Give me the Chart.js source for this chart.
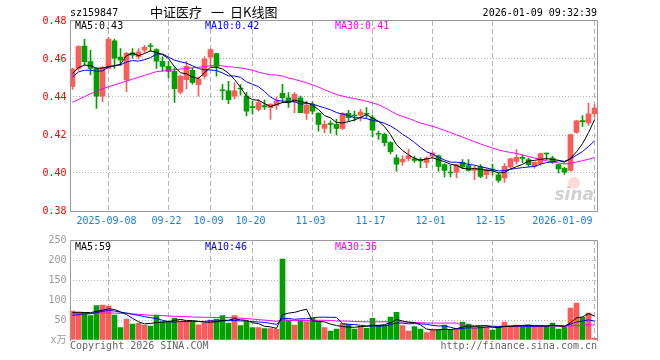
<!DOCTYPE html>
<html>
<head>
<meta charset="utf-8">
<script src="https://cdn.jsdelivr.net/npm/chart.js@4.4.1/dist/chart.umd.min.js"></script>
<style>
  html, body { margin: 0; padding: 0; background: #fff; }
  #wrap { position: relative; width: 660px; height: 360px; }
  canvas { position: absolute; left: 0; top: 0; }
</style>
</head>
<body>
<div id="wrap">
  <canvas id="kline" width="660" height="360"></canvas>
  <canvas id="vol" width="660" height="360"></canvas>
</div>
<script>
// trading days shown
const dates = [
  '2025-08-29',
  '2025-09-01', '2025-09-02', '2025-09-03', '2025-09-04', '2025-09-05',
  '2025-09-08', '2025-09-09', '2025-09-10', '2025-09-11', '2025-09-12',
  '2025-09-15', '2025-09-16', '2025-09-17', '2025-09-18', '2025-09-19',
  '2025-09-22', '2025-09-23', '2025-09-24', '2025-09-25', '2025-09-26',
  '2025-09-29', '2025-09-30',
  '2025-10-09', '2025-10-10',
  '2025-10-13', '2025-10-14', '2025-10-15', '2025-10-16', '2025-10-17',
  '2025-10-20', '2025-10-21', '2025-10-22', '2025-10-23', '2025-10-24',
  '2025-10-27', '2025-10-28', '2025-10-29', '2025-10-30', '2025-10-31',
  '2025-11-03', '2025-11-04', '2025-11-05', '2025-11-06', '2025-11-07',
  '2025-11-10', '2025-11-11', '2025-11-12', '2025-11-13', '2025-11-14',
  '2025-11-17', '2025-11-18', '2025-11-19', '2025-11-20', '2025-11-21',
  '2025-11-24', '2025-11-25', '2025-11-26', '2025-11-27', '2025-11-28',
  '2025-12-01', '2025-12-02', '2025-12-03', '2025-12-04', '2025-12-05',
  '2025-12-08', '2025-12-09', '2025-12-10', '2025-12-11', '2025-12-12',
  '2025-12-15', '2025-12-16', '2025-12-17', '2025-12-18', '2025-12-19',
  '2025-12-22', '2025-12-23', '2025-12-24', '2025-12-25', '2025-12-26',
  '2025-12-29', '2025-12-30', '2025-12-31',
  '2026-01-05', '2026-01-06', '2026-01-07', '2026-01-08', '2026-01-09'
];

const opens = [
  0.4456, 0.4550, 0.4668, 0.4586, 0.4551, 0.4405, 0.4551, 0.4696, 0.4610, 0.4490,
  0.4632, 0.4612, 0.4647, 0.4670, 0.4649, 0.4588, 0.4561, 0.4535, 0.4425, 0.4491,
  0.4540, 0.4465, 0.4509, 0.4609, 0.4628, 0.4436, 0.4433, 0.4404, 0.4444, 0.4405,
  0.4346, 0.4335, 0.4355, 0.4344, 0.4356, 0.4419, 0.4396, 0.4374, 0.4396, 0.4314,
  0.4356, 0.4314, 0.4235, 0.4258, 0.4256, 0.4235, 0.4314, 0.4302, 0.4304, 0.4312,
  0.4291, 0.4206, 0.4204, 0.4160, 0.4080, 0.4058, 0.4075, 0.4075, 0.4072, 0.4056,
  0.4088, 0.4091, 0.4044, 0.4002, 0.4004, 0.4056, 0.4039, 0.4014, 0.4032, 0.3991,
  0.4021, 0.3991, 0.3974, 0.4032, 0.4061, 0.4081, 0.4070, 0.4035, 0.4049, 0.4102,
  0.4079, 0.4044, 0.4025, 0.4014, 0.4214, 0.4274, 0.4263, 0.4312
];
const highs = [
  0.4552, 0.4670, 0.4704, 0.4645, 0.4555, 0.4560, 0.4714, 0.4705, 0.4655, 0.4635,
  0.4655, 0.4655, 0.4672, 0.4683, 0.4655, 0.4612, 0.4588, 0.4555, 0.4515, 0.4588,
  0.4552, 0.4508, 0.4612, 0.4655, 0.4630, 0.4465, 0.4482, 0.4474, 0.4465, 0.4425,
  0.4379, 0.4388, 0.4385, 0.4365, 0.4400, 0.4467, 0.4423, 0.4423, 0.4405, 0.4379,
  0.4374, 0.4318, 0.4274, 0.4274, 0.4282, 0.4318, 0.4330, 0.4326, 0.4335, 0.4344,
  0.4304, 0.4221, 0.4210, 0.4165, 0.4095, 0.4090, 0.4125, 0.4089, 0.4080, 0.4085,
  0.4112, 0.4095, 0.4050, 0.4040, 0.4046, 0.4070, 0.4070, 0.4035, 0.4044, 0.4025,
  0.4047, 0.3998, 0.4049, 0.4079, 0.4123, 0.4096, 0.4079, 0.4060, 0.4105, 0.4105,
  0.4088, 0.4046, 0.4030, 0.4205, 0.4277, 0.4302, 0.4368, 0.4360
];
const lows = [
  0.4440, 0.4540, 0.4568, 0.4516, 0.4340, 0.4375, 0.4550, 0.4550, 0.4565, 0.4428,
  0.4605, 0.4600, 0.4635, 0.4640, 0.4550, 0.4535, 0.4500, 0.4372, 0.4415, 0.4442,
  0.4468, 0.4404, 0.4498, 0.4561, 0.4509, 0.4386, 0.4365, 0.4390, 0.4410, 0.4300,
  0.4309, 0.4325, 0.4335, 0.4282, 0.4335, 0.4370, 0.4345, 0.4318, 0.4318, 0.4282,
  0.4309, 0.4220, 0.4212, 0.4209, 0.4200, 0.4230, 0.4275, 0.4274, 0.4274, 0.4291,
  0.4191, 0.4177, 0.4142, 0.4100, 0.4010, 0.4040, 0.4063, 0.4056, 0.4028, 0.4028,
  0.4080, 0.4009, 0.3979, 0.3979, 0.3974, 0.4021, 0.4009, 0.3965, 0.3975, 0.3970,
  0.3988, 0.3951, 0.3951, 0.4025, 0.4047, 0.4054, 0.4035, 0.4025, 0.4040, 0.4070,
  0.4050, 0.4000, 0.3993, 0.4009, 0.4209, 0.4245, 0.4251, 0.4295
];
const closes = [
  0.4547, 0.4665, 0.4586, 0.4551, 0.4405, 0.4555, 0.4704, 0.4604, 0.4595, 0.4630,
  0.4620, 0.4638, 0.4661, 0.4666, 0.4588, 0.4561, 0.4535, 0.4444, 0.4509, 0.4561,
  0.4477, 0.4495, 0.4600, 0.4649, 0.4561, 0.4433, 0.4386, 0.4433, 0.4442, 0.4325,
  0.4344, 0.4370, 0.4348, 0.4361, 0.4379, 0.4396, 0.4370, 0.4414, 0.4318, 0.4356,
  0.4326, 0.4256, 0.4256, 0.4256, 0.4235, 0.4314, 0.4291, 0.4300, 0.4321, 0.4309,
  0.4226, 0.4204, 0.4160, 0.4112, 0.4046, 0.4072, 0.4090, 0.4066, 0.4063, 0.4079,
  0.4105, 0.4035, 0.4014, 0.4000, 0.4044, 0.4032, 0.4014, 0.4026, 0.3982, 0.4018,
  0.4016, 0.3961, 0.4035, 0.4074, 0.4082, 0.4077, 0.4044, 0.4056, 0.4102, 0.4100,
  0.4056, 0.4021, 0.4004, 0.4202, 0.4275, 0.4270, 0.4312, 0.4342
];
// volume, in 万
const volumes = [
  72.5, 69, 69, 61, 86, 87.5, 85, 62.5, 31, 52.5,
  40, 41.7, 37.5, 35, 62.5, 46, 47.5, 54, 47.5, 47.5,
  46, 38, 41.7, 50, 52.5, 60.8, 42.5, 60.8, 35.8, 45.8,
  30.8, 30.8, 28.3, 28.3, 26.7, 202.5, 50, 37.5, 50, 45.8,
  54.2, 45.8, 30.8, 22.5, 27.5, 41.7, 39.2, 27.5, 33.3, 29.2,
  54.2, 37.5, 37.5, 57.5, 69.2, 35.8, 22.5, 33.3, 27.5, 18.3,
  25, 25, 37.5, 25, 29.2, 45, 40, 29.2, 33.3, 33.3,
  25, 33.3, 45, 33.3, 37.5, 33.3, 37.5, 35, 35, 33.3,
  42.5, 27.5, 33.3, 80, 92.5, 56.7, 67.5, 4
];
// sessions before the visible window, only feed the moving averages
const priorCloses = [
  0.4215, 0.4136, 0.4100, 0.4050, 0.4110, 0.4400, 0.4300, 0.4300, 0.4330, 0.4320,
  0.4340, 0.4360, 0.4370, 0.4290, 0.4460, 0.4435, 0.4340, 0.4410, 0.4460, 0.4380,
  0.4395, 0.4500, 0.4550, 0.4460, 0.4530, 0.4510, 0.4520, 0.4560, 0.4480
];
const priorVolumes = [
  70, 85, 62, 58, 74, 90, 66, 55, 61, 78, 72, 64, 80, 68, 59,
  75, 83, 62, 57, 71, 52, 48, 60, 55, 58, 66, 73, 62, 71
];

const priceTicks = [0.38, 0.40, 0.42, 0.44, 0.46, 0.48];
const volumeTicks = [0, 50, 100, 150, 200, 250];
const dateMarks = ['2025-09-08', '2025-09-22', '2025-10-09', '2025-10-20', '2025-11-03',
                   '2025-11-17', '2025-12-01', '2025-12-15', '2026-01-09'];
const dateMarkText = ['2025-09-08', '09-22', '10-09', '10-20', '11-03',
                      '11-17', '12-01', '12-15', '2026-01-09'];
const priceMaText = ['MA5:0.43', 'MA10:0.42', 'MA30:0.41'];
const volumeMaText = ['MA5:59', 'MA10:46', 'MA30:36'];

const RED = '#ff5a5a';
const GREEN = '#00a000';
const GRID = '#b4b4b4';
const FRAME = '#999999';
const MA_COLORS = ['#000000', '#0000ff', '#ff00ff'];
const MONO = "'DejaVu Sans Mono', 'Noto Sans CJK SC', monospace";

const markIdx = dateMarks.map((d) => dates.indexOf(d));
const candleColors = closes.map((c, i) => (c >= opens[i] ? RED : GREEN));

function movingAvg(values, prior, n) {
  const all = prior.concat(values);
  return values.map((_, i) => {
    const end = prior.length + i + 1;
    let sum = 0;
    for (let k = end - n; k < end; k++) sum += all[k];
    return sum / n;
  });
}

function maLine(data, color) {
  return {
    type: 'line', data, borderColor: color, borderWidth: 1,
    pointRadius: 0, tension: 0, order: 0
  };
}

// shared x axis: 88 slots of 6px starting at x=69.5
const xAxis = {
  offset: true,
  ticks: { display: false, autoSkip: false },
  grid: {
    offset: false, drawTicks: false,
    color: (ctx) => (markIdx.includes(ctx.index) ? GRID : 'transparent')
  },
  border: { display: false, dash: [5, 3] },
  afterFit: (s) => { s.height = 0; }
};

const klineDecor = {
  id: 'klineDecor',
  afterDraw(chart) {
    const ctx = chart.ctx;
    const xs = chart.scales.x;
    ctx.save();
    ctx.strokeStyle = FRAME;
    ctx.lineWidth = 1;
    ctx.strokeRect(70.5, 20.5, 527, 191);

    ctx.textBaseline = 'middle';
    ctx.font = '10px ' + MONO;
    ctx.fillStyle = '#000';
    ctx.textAlign = 'left';
    ctx.fillText('sz159847', 70, 13);
    ctx.textAlign = 'right';
    ctx.fillText('2026-01-09 09:32:39', 597, 13);

    ctx.textAlign = 'left';
    ctx.font = "13px 'Noto Sans CJK SC'";
    ctx.fillText('中证医疗', 150, 12.5);
    ctx.fillText('一', 211, 12.5);
    ctx.fillText('日K线图', 230, 12.5);

    ctx.font = '10px ' + MONO;
    [75, 205, 335].forEach((x, k) => {
      ctx.fillStyle = MA_COLORS[k];
      ctx.fillText(priceMaText[k], x, 26.5);
    });

    ctx.fillStyle = '#1a7fd4';
    markIdx.forEach((idx, k) => {
      const x = xs.getPixelForValue(idx) - 2;
      const w = ctx.measureText(dateMarkText[k]).width;
      ctx.textAlign = x + w / 2 > 597 ? 'right' : 'center';
      ctx.fillText(dateMarkText[k], x, 221.5);
    });

    // faint sina watermark
    ctx.font = "italic bold 17px 'DejaVu Sans'";
    ctx.fillStyle = 'rgba(170,170,170,0.55)';
    ctx.textAlign = 'right';
    ctx.fillText('sina', 594, 196);
    ctx.fillStyle = 'rgba(255,150,150,0.35)';
    ctx.beginPath();
    ctx.arc(574, 183, 6, 0, Math.PI * 2);
    ctx.fill();
    ctx.restore();
  }
};

const volDecor = {
  id: 'volDecor',
  afterDraw(chart) {
    const ctx = chart.ctx;
    ctx.save();
    ctx.strokeStyle = FRAME;
    ctx.lineWidth = 1;
    ctx.beginPath();
    ctx.moveTo(70.5, 341);
    ctx.lineTo(70.5, 240.5);
    ctx.lineTo(597.5, 240.5);
    ctx.lineTo(597.5, 341);
    ctx.stroke();

    ctx.textBaseline = 'middle';
    ctx.textAlign = 'left';
    ctx.font = '10px ' + MONO;
    [75, 205, 335].forEach((x, k) => {
      ctx.fillStyle = MA_COLORS[k];
      ctx.fillText(volumeMaText[k], x, 247);
    });

    ctx.fillStyle = '#666';
    ctx.fillText('Copyright 2026 SINA.COM', 70, 346.5);
    ctx.textAlign = 'right';
    ctx.fillText('http://finance.sina.com.cn', 597, 346.5);
    ctx.restore();
  }
};

new Chart(document.getElementById('kline'), {
  type: 'bar',
  data: {
    labels: dates,
    datasets: [
      maLine(movingAvg(closes, priorCloses, 5), MA_COLORS[0]),
      maLine(movingAvg(closes, priorCloses, 10), MA_COLORS[1]),
      maLine(movingAvg(closes, priorCloses, 30), MA_COLORS[2]),
      {
        data: opens.map((o, i) => [o, closes[i]]),
        backgroundColor: candleColors,
        barThickness: 5, minBarLength: 1, grouped: false, order: 1
      },
      {
        data: lows.map((l, i) => [l, highs[i]]),
        backgroundColor: candleColors,
        barThickness: 1, grouped: false, order: 2
      }
    ]
  },
  options: {
    responsive: false,
    animation: false,
    devicePixelRatio: 1,
    layout: { padding: { left: 0.5, top: 21, right: 62.5, bottom: 149 } },
    plugins: { legend: { display: false }, tooltip: { enabled: false } },
    scales: {
      x: xAxis,
      y: {
        min: priceTicks[0],
        max: priceTicks[priceTicks.length - 1],
        afterBuildTicks: (s) => { s.ticks = priceTicks.map((v) => ({ value: v })); },
        ticks: {
          color: '#ff0000', padding: 3,
          font: { family: MONO, size: 10 },
          callback: (v) => Number(v).toFixed(2)
        },
        grid: {
          drawTicks: false,
          color: (ctx) => (ctx.index > 0 && ctx.index < priceTicks.length - 1 ? GRID : 'transparent')
        },
        border: { display: false, dash: [1, 2] },
        afterFit: (s) => { s.width = 69; }
      }
    }
  },
  plugins: [klineDecor]
});

new Chart(document.getElementById('vol'), {
  type: 'bar',
  data: {
    labels: dates,
    datasets: [
      maLine(movingAvg(volumes, priorVolumes, 5), MA_COLORS[0]),
      maLine(movingAvg(volumes, priorVolumes, 10), MA_COLORS[1]),
      maLine(movingAvg(volumes, priorVolumes, 30), MA_COLORS[2]),
      {
        data: volumes,
        backgroundColor: candleColors,
        barThickness: 5, order: 1
      }
    ]
  },
  options: {
    responsive: false,
    animation: false,
    devicePixelRatio: 1,
    layout: { padding: { left: 0.5, top: 240, right: 62.5, bottom: 20 } },
    plugins: { legend: { display: false }, tooltip: { enabled: false } },
    scales: {
      x: xAxis,
      y: {
        min: volumeTicks[0],
        max: volumeTicks[volumeTicks.length - 1],
        afterBuildTicks: (s) => { s.ticks = volumeTicks.map((v) => ({ value: v })); },
        ticks: {
          color: '#9a9a9a', padding: 3,
          font: { family: MONO, size: 10 },
          callback: (v) => (v === 0 ? 'x万' : String(v))
        },
        grid: {
          drawTicks: false,
          color: (ctx) => (ctx.index > 0 && ctx.index < volumeTicks.length - 1 ? GRID : 'transparent')
        },
        border: { display: false, dash: [1, 2] },
        afterFit: (s) => { s.width = 69; }
      }
    }
  },
  plugins: [volDecor]
});
</script>
</body>
</html>
